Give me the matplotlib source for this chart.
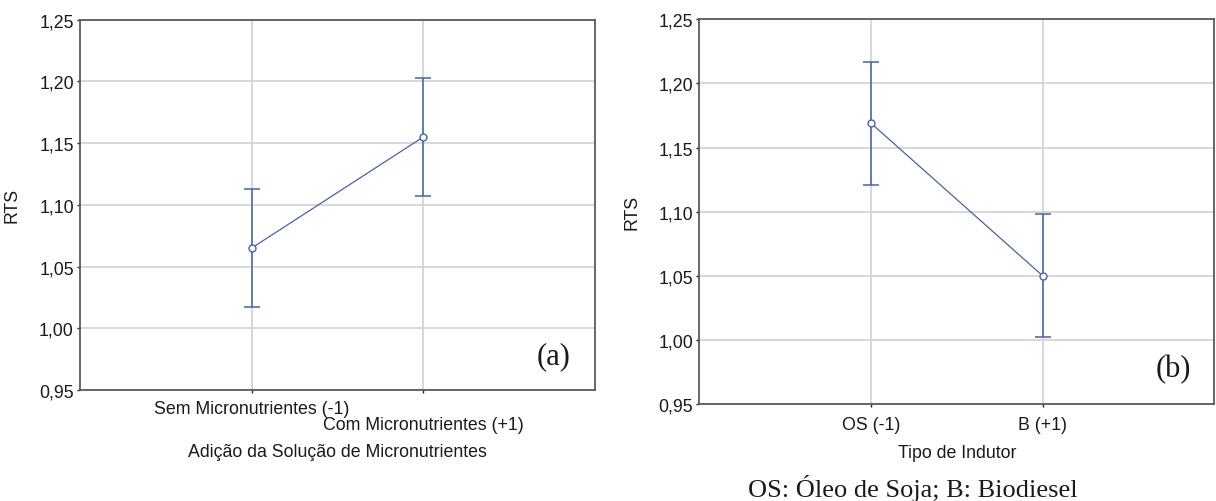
import numpy as np
import matplotlib
matplotlib.use("Agg")
import matplotlib.pyplot as plt
from matplotlib.ticker import FuncFormatter

plt.rcParams['font.family'] = ['Liberation Sans', 'DejaVu Sans']

# effect of micronutrient solution (a) and inducer type (b) on RTS
levels_a = ["Sem Micronutrientes (-1)", "Com Micronutrientes (+1)"]
means_a = [1.065, 1.155]
err_a = [0.048, 0.048]

levels_b = ["OS (-1)", "B (+1)"]
means_b = [1.169, 1.050]
err_b = [0.048, 0.048]

yticks = [0.95, 1.00, 1.05, 1.10, 1.15, 1.20, 1.25]

BLUE = "#4562b3"
GRID = "#d4d4d4"
SPINE = "#5a5a5a"
FS = 12.8

fig = plt.figure(figsize=(12.16, 5.02), dpi=100)
ax_a = fig.add_axes([0.0658, 0.2211, 0.4235, 0.7377])
ax_b = fig.add_axes([0.5751, 0.1932, 0.4235, 0.7663])


def comma(v, _):
    return f"{v:.2f}".replace(".", ",")


def draw_panel(ax, labels, means, errs, tag):
    x = np.arange(1, len(labels) + 1)
    ax.errorbar(x, means, yerr=errs, fmt='none', ecolor=BLUE, elinewidth=1.1,
                capsize=6, capthick=1.1, zorder=3)
    ax.plot(x, means, '-', color=BLUE, lw=0.9, marker='o', ms=5,
            mfc='white', mec=BLUE, mew=1.0, zorder=4)
    ax.set_xlim(0, len(labels) + 1)
    ax.set_ylim(0.95, 1.25)
    ax.set_yticks(yticks)
    ax.yaxis.set_major_formatter(FuncFormatter(comma))
    ax.set_xticks(x)
    ax.set_xticklabels(labels)
    ax.grid(True, color=GRID, lw=1.3, zorder=0)
    ax.set_axisbelow(True)
    for s in ax.spines.values():
        s.set_color(SPINE)
        s.set_linewidth(1.3)
    ax.tick_params(axis='both', labelsize=FS, colors='#222222', length=2.5,
                   width=1, pad=2)
    ax.tick_params(axis='x', pad=5)
    for t in ax.get_xticklabels() + ax.get_yticklabels():
        t.set_color('#1a1a1a')
    ax.set_ylabel("RTS", fontsize=FS, color='#1a1a1a')
    ax.yaxis.set_label_coords(-0.115, 0.5)
    ax.text(0.92, 0.092, tag, transform=ax.transAxes, ha='center', va='center',
            fontsize=22, family='Liberation Serif', color='#1a1a1a')


draw_panel(ax_a, levels_a, means_a, err_a, "(a)")
draw_panel(ax_b, levels_b, means_b, err_b, "(b)")

# stagger the long category labels in panel (a)
ax_a.xaxis.get_major_ticks()[1].set_pad(16.5)
ax_a.set_xlabel("Adição da Solução de Micronutrientes", fontsize=FS,
                color='#1a1a1a', labelpad=7)
ax_b.tick_params(axis='x', pad=6)
ax_b.set_xlabel("Tipo de Indutor", fontsize=FS, color='#1a1a1a', labelpad=8)

fig.text(0.751, 0.026, "OS: Óleo de Soja; B: Biodiesel", ha='center',
         va='center', fontsize=19, family='Liberation Serif', color='#1a1a1a')

fig.savefig("out.png", dpi=100)
